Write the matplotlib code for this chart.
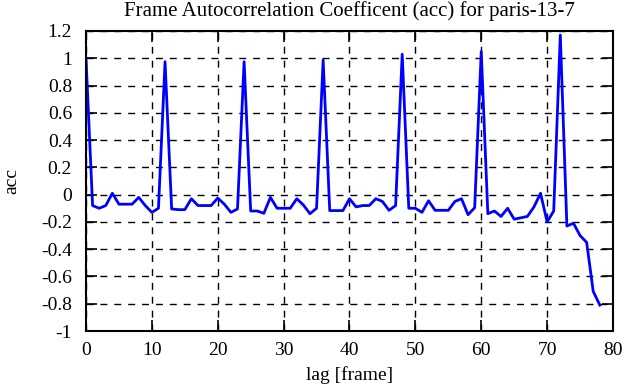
import matplotlib
matplotlib.use("Agg")
import matplotlib.pyplot as plt
import numpy as np

# autocorrelation values, lag 0..78
lag = np.arange(0, 79)
acc = [
    1.00, -0.08, -0.10, -0.08, 0.01, -0.07, -0.07, -0.07, -0.02, -0.08,
    -0.13, -0.10, 0.975, -0.105, -0.11, -0.11, -0.03, -0.08, -0.08, -0.08,
    -0.025, -0.07, -0.13, -0.105, 0.975, -0.12, -0.12, -0.137, -0.02, -0.10,
    -0.10, -0.10, -0.03, -0.076, -0.14, -0.10, 0.987, -0.117, -0.117, -0.117,
    -0.03, -0.09, -0.08, -0.08, -0.03, -0.05, -0.115, -0.08, 1.03, -0.10,
    -0.10, -0.13, -0.045, -0.115, -0.115, -0.115, -0.05, -0.03, -0.147, -0.096,
    1.05, -0.14, -0.12, -0.16, -0.10, -0.18, -0.17, -0.16, -0.09, 0.01,
    -0.20, -0.12, 1.17, -0.23, -0.21, -0.30, -0.35, -0.71, -0.81,
]

xticks = list(range(0, 81, 10))
yticks = [1.2, 1, 0.8, 0.6, 0.4, 0.2, 0, -0.2, -0.4, -0.6, -0.8, -1]

plt.rcParams['font.family'] = ['Liberation Serif', 'DejaVu Serif']
plt.rcParams['font.size'] = 14

fig = plt.figure(figsize=(6.25, 3.87), dpi=100)
ax = fig.add_axes([0.1376, 0.1447, 0.8432, 0.7752])

ax.plot(lag, acc, color='#0000ff', linewidth=2)

ax.set_xlim(0, 80)
ax.set_ylim(-1, 1.2)
ax.set_xticks(xticks)
ax.set_yticks(yticks)
ax.set_yticklabels([f"{v:g}" for v in yticks])
ax.grid(True, color='black', linestyle=(0, (5, 5)), linewidth=1)
ax.tick_params(direction='in', top=True, right=True, length=8, width=1.2,
               labelsize=14)
ax.tick_params(axis='y', pad=10)
ax.tick_params(axis='x', pad=8)
for s in ax.spines.values():
    s.set_linewidth(1.5)

ax.set_title('Frame Autocorrelation Coefficent (acc) for paris-13-7',
             fontsize=15, pad=11)
ax.set_xlabel('lag [frame]', fontsize=14, labelpad=5)
ax.set_ylabel('acc', fontsize=14)
ax.yaxis.set_label_coords(-0.125, 0.5)

fig.savefig('out.png', dpi=100)
